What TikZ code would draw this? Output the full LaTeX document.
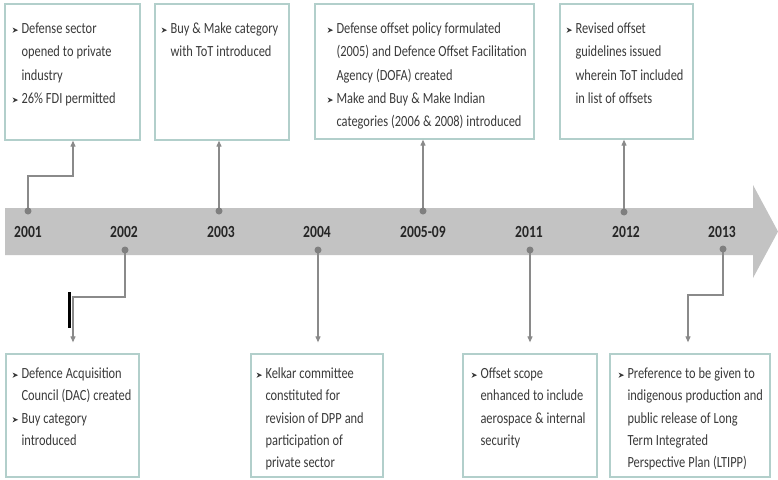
\documentclass[tikz,border=0pt]{standalone}
\usepackage{fontspec}
\setmainfont{Carlito}[FakeStretch=0.8]
\usetikzlibrary{arrows.meta,calc,fit}
\definecolor{bandgray}{HTML}{C3C3C3}
\definecolor{dotgray}{HTML}{7F7F7F}
\definecolor{linegray}{HTML}{8A8A8A}
\definecolor{boxedge}{HTML}{B2CFCB}
\definecolor{txt}{HTML}{3A3A3A}
\definecolor{yeartxt}{HTML}{262626}
\setlength\parindent{0pt}
\newlength\bw \setlength\bw{9pt}
\newcommand\bul{\tikz[x=1pt,y=1pt,baseline=0pt]\fill[txt] (0,0.8) -- (5.5,3.4) -- (0,6) -- (1.6,3.4) -- cycle;}
\newcommand\itm{\makebox[\bw][l]{\bul}}
\newcommand\ind{\hspace*{\bw}}
\newcommand\fst{\spaceskip=3pt plus 1pt minus 0.5pt\relax\rule{0pt}{12pt}}
\tikzset{
  box/.style={draw=boxedge, line width=1.3pt, fill=white, inner sep=0pt},
  boxtext/.style={anchor=north west, inner sep=0pt, text width=#1, align=left, text=txt},
  topfont/.style={font=\fontsize{15.5}{23.3}\selectfont},
  botfont/.style={font=\fontsize{15.5}{22.3}\selectfont},
  yr/.style={font=\bfseries\fontsize{17}{17}\selectfont, text=yeartxt, inner sep=0pt, anchor=center},
  dot/.style={circle, fill=dotgray, inner sep=0pt, minimum size=7pt},
  conn/.style={draw=linegray, line width=1.1pt, -{Triangle[width=5pt,length=6pt]}},
}
\begin{document}
\begin{tikzpicture}[x=1pt,y=-1pt]
\useasboundingbox (0,0) rectangle (778,479);
\fill[white] (0,0) rectangle (778,479);
% timeline band
\fill[bandgray] (5,208) -- (753,208) -- (753,185) -- (778,231.5) -- (753,278) -- (753,255) -- (5,255) -- cycle;
% boxes
\node[box, fit={(5,4) (140,140)}] (b1) {};
\node[box, fit={(155,4) (289,140)}] (b2) {};
\node[box, fit={(315,4) (534,139)}] (b3) {};
\node[box, fit={(560,4) (693,139)}] (b4) {};
\node[box, fit={(6,354) (139,477)}] (b5) {};
\node[box, fit={(251,354) (383,477)}] (b6) {};
\node[box, fit={(463,354) (597,477)}] (b7) {};
\node[box, fit={(610,354) (770,477)}] (b8) {};
% texts
\node[boxtext=130pt, topfont] (t1) at ($(b1.north west)+(8,18)$) {\fst\itm Defense sector\\\ind opened to private\\\ind industry\\\itm 26\% FDI permitted};
\node[boxtext=130pt, topfont] (t2) at ($(b2.north west)+(7,18)$) {\fst\itm Buy \& Make category\\\ind with ToT introduced};
\node[boxtext=215pt, topfont] (t3) at ($(b3.north west)+(13,18)$) {\fst\itm Defense offset policy formulated\\\ind (2005) and Defence Offset Facilitation\\\ind Agency (DOFA) created\\\itm Make and Buy \& Make Indian\\\ind categories (2006 \& 2008) introduced};
\node[boxtext=130pt, topfont] (t4) at ($(b4.north west)+(7,18)$) {\fst\itm Revised offset\\\ind guidelines issued\\\ind wherein ToT included\\\ind in list of offsets};
\node[boxtext=130pt, botfont] (t5) at ($(b5.north west)+(7,13)$) {\fst\itm Defence Acquisition\\\ind Council (DAC) created\\\itm Buy category\\\ind introduced};
\node[boxtext=130pt, botfont] (t6) at ($(b6.north west)+(6,13)$) {\fst\itm Kelkar committee\\\ind constituted for\\\ind revision of DPP and\\\ind participation of\\\ind private sector};
\node[boxtext=130pt, botfont] (t7) at ($(b7.north west)+(9,13)$) {\fst\itm Offset scope\\\ind enhanced to include\\\ind aerospace \& internal\\\ind security};
\node[boxtext=160pt, botfont] (t8) at ($(b8.north west)+(9,13)$) {\fst\itm Preference to be given to\\\ind indigenous production and\\\ind public release of Long\\\ind Term Integrated\\\ind Perspective Plan (LTIPP)};
% dot positions
\coordinate (p1) at (28,211);
\coordinate (p3) at (219,211);
\coordinate (p5) at (423,211);
\coordinate (p12) at (624,212);
\coordinate (p2) at (125,250);
\coordinate (p4) at (318,250);
\coordinate (p11) at (530,250);
\coordinate (p13) at (723,249);
\coordinate (k1) at (73,176);
\coordinate (k2) at (73,297);
\coordinate (k13) at (688,295);
% connectors
\draw[conn] (p1) |- (k1) -- (k1 |- b1.south);
\draw[conn] (p3) -- (p3 |- b2.south);
\draw[conn] (p5) -- (p5 |- b3.south);
\draw[conn] (p12) -- (p12 |- b4.south);
\draw[conn] (p2) |- (k2) -- ($(k2 |- b5.north)+(0,-11)$);
\draw[conn] (p4) -- ($(p4 |- b6.north)+(0,-11)$);
\draw[conn] (p11) -- ($(p11 |- b7.north)+(0,-11)$);
\draw[conn] (p13) |- (k13) -- ($(k13 |- b8.north)+(0,-11)$);
% stray black bar
\draw[line width=3pt, black] (69,292) -- (69,328);
% dots
\node[dot] (d1) at (p1) {};
\node[dot] (d3) at (p3) {};
\node[dot] (d5) at (p5) {};
\node[dot] (d12) at (p12) {};
\node[dot] (d2) at (p2) {};
\node[dot] (d4) at (p4) {};
\node[dot] (d11) at (p11) {};
\node[dot] (d13) at (p13) {};
% years
\node[yr] (y1) at (28,232) {2001};
\node[yr] (y2) at (124,232) {2002};
\node[yr] (y3) at (221,232) {2003};
\node[yr] (y4) at (317,232) {2004};
\node[yr] (y5) at (423,232) {2005-09};
\node[yr] (y11) at (529,232) {2011};
\node[yr] (y12) at (626,232) {2012};
\node[yr] (y13) at (722,232) {2013};
\end{tikzpicture}
\end{document}
